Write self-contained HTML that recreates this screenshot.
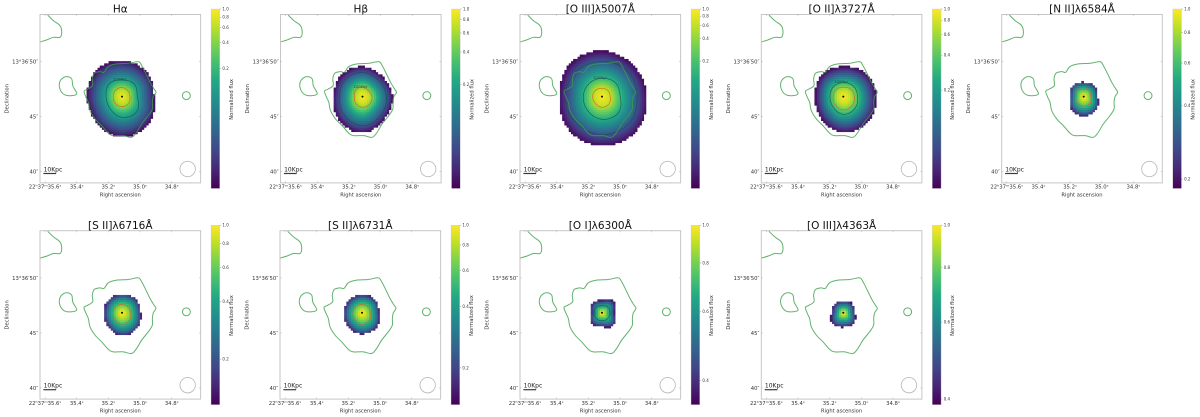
<!DOCTYPE html>
<html lang="en">
<head>
<meta charset="utf-8">
<title>Normalized emission-line flux maps</title>
<style>
html,body{margin:0;padding:0;background:#fff;}
body{width:1200px;height:417px;overflow:hidden;}
svg{display:block;filter:blur(0.3px);}
text{font-family:"DejaVu Sans","Liberation Sans",sans-serif;}
</style>
</head>
<body>
<svg id="figure" xmlns="http://www.w3.org/2000/svg" width="1200" height="417" viewBox="0 0 1200 417">
<defs>
<linearGradient id="viridis-gradient" x1="0" y1="1" x2="0" y2="0"></linearGradient>
</defs>
</svg>
<script>
// ---- panel data ----
const panelTitles = ['Hα','Hβ','[O III]λ5007Å','[O II]λ3727Å','[N II]λ6584Å','[S II]λ6716Å','[S II]λ6731Å','[O I]λ6300Å','[O III]λ4363Å'];
const panelSlugs = ['h-alpha','h-beta','o3-5007','o2-3727','n2-6584','s2-6716','s2-6731','o1-6300','o3-4363'];
// colour-bar log-norm lower limits
const normMin = [0.0077,0.0217,0.0039,0.0284,0.183,0.1157,0.132,0.347,0.388];
const colorbarTicks = [
  [1,0.8,0.6,0.4,0.2],[1,0.8,0.6,0.4,0.2],[1,0.8,0.6,0.4,0.2],[1,0.8,0.6,0.4,0.2],[1,0.8,0.6,0.4,0.2],
  [1,0.8,0.6,0.4,0.2],[1,0.8,0.6,0.4,0.2],[1,0.8,0.6,0.4],[1,0.8,0.6,0.4]
];
// flux-map outline: radius in arcsec, going counter-clockwise from screen right
const outlineRadii = [
  [2.91,3.09,3.18,3.27,3.32,3.27,3.18,3.18,3.45,3.64,3.55,3.27],
  [2.73,2.55,2.73,2.73,2.64,3,3.27,2.82],
  [4.05,4,4.15,4.14,3.88,4.25,4.45,4.41],
  [2.97,2.91,2.73,2.78,2.57,2.82,3.27,3.18],
  [1.27,1.36,1.3,1.42,1.25,1.57,1.75,1.64],
  [1.7,1.75,1.7,1.7,1.64,1.77,2.03,1.95],
  [1.55,1.66,1.64,1.64,1.66,1.75,1.91,1.85],
  [1.12,1.45,1.15,1.25,1,1.36,1.27,1.55],
  [1.06,1.15,1.09,1.13,1.06,1.38,1.3,1.36]
];
// colour-map fraction sampled along normalized radius 0, .2, .4, .6, .8, 1
const radialProfiles = [
  [1,0.88,0.66,0.45,0.25,0.03],
  [1,0.92,0.72,0.48,0.27,0.03],
  [1,0.9,0.68,0.46,0.24,0.03],
  [1,0.92,0.74,0.5,0.26,0.03],
  [1,0.92,0.78,0.6,0.4,0.1],
  [1,0.92,0.78,0.6,0.4,0.1],
  [1,0.92,0.78,0.6,0.4,0.1],
  [1,0.88,0.68,0.5,0.3,0.05],
  [1,0.88,0.68,0.5,0.3,0.05]
];
// inner (orange) contour radii in arcsec
const innerContours = [
  [0.73,0.75,0.82,0.82,0.79,0.86,0.91,0.86],
  [0.85,0.77,0.85,0.86,0.75,0.86,0.97,0.95],
  [0.75,0.77,0.75,0.82,0.85,0.86,0.97,0.91],
  [1,0.95,0.85,0.91,0.91,1.05,1.21,1.14],
  [0.64,0.73,0.85,0.82,0.73,0.82,0.85,0.82],
  [0.79,0.77,0.75,0.82,0.79,0.91,1.03,0.95],
  [0.75,0.77,0.75,0.82,0.82,0.91,1.06,0.95],
  [],
  []
];
// dark age contours, radii in arcsec
const darkContours = [
  [[1.39,1.59,1.52,1.64,1.45,1.54,1.88,1.91],[2.75,2.82,3,3,3,3,3.27,3]],
  [[2.18,2.09,2.18,2.18,2.09,2.36,2.64,2.36]],
  [[1.66,1.75,1.66,1.67,1.7,1.82,2.06,2.09],[3.18,3.27,3.18,3.27,3.34,3.36,3.45,3.45]],
  [[1.3,1.32,1.27,1.27,1.21,1.32,1.61,1.5]],
  [],
  [],
  [],
  [[0.73,0.73,0.64,0.73,0.73,0.73,0.73,0.73]],
  []
];
const contourLabelPanels = [0,1,2,3];
// shared outer contours, [arcsec east, arcsec north] of the nucleus
const mainContour = [[3.45,.48],[3.15,.67],[2.67,1],[2.7,1.61],[2.52,2.12],[2,2.27],[1.64,2.21],[1.24,2.73],[.48,2.97],[-.58,3.03],[-1.48,3.18],[-1.79,2.82],[-2.18,2.06],[-2.55,1.3],[-2.91,.7],[-3.09,.39],[-2.85,0],[-2.76,-.52],[-2.76,-1.12],[-2.39,-1.73],[-1.79,-2.48],[-1.33,-3.24],[-.88,-3.7],[-.12,-3.55],[.79,-3.55],[1.24,-3.33],[1.85,-2.64],[2.45,-2.03],[2.91,-1.27],[3.06,-.52],[3.27,-.06]];
const cornerContour = [[6.76,7.42],[6.24,6.91],[5.64,6.45],[5.48,5.85],[5.64,5.39],[6.24,5.39],[6.85,5.15],[7.45,4.97]];
const westBlobContour = [[5.7,1.15],[5.48,1.61],[5.03,1.82],[4.58,1.61],[4.48,1],[4.27,.61],[4.12,.24],[4.58,.09],[5.18,.15],[5.58,.55]];
const eastBlob = [-5.85,0.09,0.36];
const beam = [-5.97,-6.58,0.7];
// axis ticks
const raTicks = [35.6,35.4,35.2,35.0,34.8];
const raTickLabels = ['22ʰ37ᵐ35.6ˢ','35.4ˢ','35.2ˢ','35.0ˢ','34.8ˢ'];
const decTicks = [50,45,40];
const decTickLabels = ['13°36′50″','45″','40″'];
const viridisStops = ['#440154','#482475','#414487','#355f8d','#2a788e','#21918c','#22a884','#44bf70','#7ad151','#bddf26','#fde725'];
const scaleBarArcsec = 1.16;

// ---- layout ----
const axesLefts = [40,280.5,520,761.3,1001.7,40,280,520,761.3];
const axesTops = [14.5,14.5,14.5,14.5,14.5,230.7,230.7,230.7,230.7];
const axesWidth = 160.6, axesHeight = 168.4, pxPerArcsec = 11, cbGap = 10.4, cbWidth = 8.8, cbHeight = 179.5;
const nucleusRa = 35.114, nucleusDec = 46.83, pxPerSecond = 158.3;
const ns = 'http://www.w3.org/2000/svg';
const svg = document.getElementById('figure');

function el(parent, tag, attrs, text){
  const e = document.createElementNS(ns, tag);
  for (const k in attrs) e.setAttribute(k, attrs[k]);
  if (text !== undefined) e.textContent = text;
  parent.appendChild(e);
  return e;
}
function hexRgb(h){ return [1,3,5].map(i => parseInt(h.slice(i,i+2),16)); }
function viridis(f){
  f = Math.max(0, Math.min(1, f));
  const u = f * (viridisStops.length - 1), i = Math.min(Math.floor(u), viridisStops.length - 2), w = u - i;
  const a = hexRgb(viridisStops[i]), b = hexRgb(viridisStops[i+1]);
  return 'rgb(' + a.map((v,k) => Math.round(v + (b[k]-v)*w)).join(',') + ')';
}
function radiusAt(radii, theta){
  const n = radii.length;
  const u = (((theta / (2*Math.PI)) % 1 + 1) % 1) * n;
  const i = Math.floor(u), t = u - i;
  const p0 = radii[(i-1+n)%n], p1 = radii[i%n], p2 = radii[(i+1)%n], p3 = radii[(i+2)%n];
  return 0.5*((2*p1)+(-p0+p2)*t+(2*p0-5*p1+4*p2-p3)*t*t+(-p0+3*p1-3*p2+p3)*t*t*t);
}
function profileAt(profile, t){
  const u = Math.min(t,1) * (profile.length - 1), i = Math.min(Math.floor(u), profile.length - 2);
  return profile[i] + (profile[i+1]-profile[i])*(u-i);
}
function smoothPath(pts, closed){
  const n = pts.length;
  let d = 'M' + pts[0][0].toFixed(2) + ' ' + pts[0][1].toFixed(2);
  const last = closed ? n : n-1;
  for (let i = 0; i < last; i++){
    const p0 = pts[closed ? (i-1+n)%n : Math.max(i-1,0)], p1 = pts[i], p2 = pts[(i+1)%n], p3 = pts[closed ? (i+2)%n : Math.min(i+2,n-1)];
    d += 'C' + (p1[0]+(p2[0]-p0[0])/6).toFixed(2) + ' ' + (p1[1]+(p2[1]-p0[1])/6).toFixed(2) + ' ' +
         (p2[0]-(p3[0]-p1[0])/6).toFixed(2) + ' ' + (p2[1]-(p3[1]-p1[1])/6).toFixed(2) + ' ' +
         p2[0].toFixed(2) + ' ' + p2[1].toFixed(2);
  }
  return d + (closed ? 'Z' : '');
}

viridisStops.forEach((c,i) => {
  el(document.getElementById('viridis-gradient'), 'stop', {offset: (i/(viridisStops.length-1)), 'stop-color': c});
});

panelTitles.forEach((title, p) => {
  const left = axesLefts[p], top = axesTops[p], bottom = top + axesHeight, right = left + axesWidth;
  const cx = left + 82, cy = top + 82.1;
  const sx = east => cx - east * pxPerArcsec;
  const sy = north => cy - north * pxPerArcsec;
  const raX = ra => cx + (nucleusRa - ra) * pxPerSecond;
  const decY = dec => cy - (dec - nucleusDec) * pxPerArcsec;

  const g = el(svg, 'g', {});
  
  

  // heatmap cells (slightly oversized so neighbouring cells leave no seams)
  const heat = el(g, 'g', {});
  
  
  const cell = 0.2, size = cell * pxPerArcsec, pad = 0.5;
  for (let e = -5.1; e < 5.2; e += cell){
    for (let n = -5.1; n < 5.2; n += cell){
      const r = Math.hypot(e, n), theta = Math.atan2(n, -e);
      const R = radiusAt(outlineRadii[p], theta);
      if (r > R) continue;
      const cellRect = el(heat, 'rect', {x: (sx(e)-size/2-pad/2).toFixed(2), y: (sy(n)-size/2-pad/2).toFixed(2), width: (size+pad).toFixed(2), height: (size+pad).toFixed(2), fill: viridis(profileAt(radialProfiles[p], r/R))});
      
      
    }
  }

  // radial contours
  const radialPath = radii => {
    const pts = [];
    for (let a = 0; a < 72; a++){
      const th = a/72*2*Math.PI, r = radiusAt(radii, th);
      pts.push([cx + r*pxPerArcsec*Math.cos(th), cy - r*pxPerArcsec*Math.sin(th)]);
    }
    return smoothPath(pts, true);
  };
  darkContours[p].forEach(radii => {
    const dark = el(g, 'path', {d: radialPath(radii), fill: 'none', stroke: '#17504f', 'stroke-width': 0.7, 'stroke-opacity': 0.8});
    
    
  });
  if (innerContours[p].length){
    const inner = el(g, 'path', {d: radialPath(innerContours[p]), fill: 'none', stroke: '#d0642c', 'stroke-width': 0.8, 'stroke-opacity': 0.8});
    
    
  }
  if (contourLabelPanels.includes(p)){
    const labelRadii = p === 1 ? innerContours[p] : darkContours[p][0];
    const label = el(g, 'text', {x: (cx-2).toFixed(2), y: (cy - radiusAt(labelRadii, Math.PI/2)*pxPerArcsec + 0.6).toFixed(2), 'text-anchor': 'middle', 'font-size': 3.7, fill: '#1c4a4a'}, '100Myr');
    
    
  }

  // shared green contours
  const toPts = arr => arr.map(q => [sx(q[0]), sy(q[1])]);
  const greenStyle = {fill: 'none', stroke: '#3a9f48', 'stroke-width': 1, 'stroke-opacity': 0.8};
  const mainC = el(g, 'path', Object.assign({d: smoothPath(toPts(mainContour), true)}, greenStyle));
  
  
  const cornerC = el(g, 'path', Object.assign({d: smoothPath(toPts(cornerContour), false)}, greenStyle));
  
  
  const westC = el(g, 'path', Object.assign({d: smoothPath(toPts(westBlobContour), true)}, greenStyle));
  
  
  const eastC = el(g, 'circle', Object.assign({cx: sx(eastBlob[0]), cy: sy(eastBlob[1]), r: eastBlob[2]*pxPerArcsec}, greenStyle));
  
  

  // nucleus marker
  const nucleus = el(g, 'circle', {cx: cx, cy: cy, r: 1, fill: '#000'});
  
  

  // beam
  const beamC = el(g, 'circle', {cx: sx(beam[0]), cy: sy(beam[1]), r: beam[2]*pxPerArcsec, fill: 'none', stroke: '#bdbdbd', 'stroke-width': 0.9});
  
  

  // scale bar
  const barY = top + 159;
  const bar = el(g, 'rect', {x: left + 3.4, y: barY - 0.6, width: scaleBarArcsec*pxPerArcsec, height: 1.2, fill: '#3a3a3a'});
  
  
  const barText = el(g, 'text', {x: left + 3.6, y: barY - 2, 'font-size': 6, fill: '#222'}, '10Kpc');
  
  

  // spines
  const frame = el(g, 'rect', {x: left, y: top, width: axesWidth, height: axesHeight, fill: 'none', stroke: '#c6c6c6', 'stroke-width': 1});
  
  

  // ticks
  raTicks.forEach((ra, i) => {
    const x = raX(ra);
    const tickB = el(g, 'line', {x1: x, x2: x, y1: bottom, y2: bottom - 1.6, stroke: '#999', 'stroke-width': 0.4});
    
    
    const tickT = el(g, 'line', {x1: x, x2: x, y1: top, y2: top + 1.6, stroke: '#999', 'stroke-width': 0.4});
    
    
    const lab = el(g, 'text', {x: x, y: bottom + 5.7, 'text-anchor': 'middle', 'font-size': 5.3, fill: '#333'}, raTickLabels[i]);
    
    
  });
  decTicks.forEach((dec, i) => {
    const y = decY(dec);
    const tickL = el(g, 'line', {x1: left, x2: left + 1.6, y1: y, y2: y, stroke: '#999', 'stroke-width': 0.4});
    
    
    const tickR = el(g, 'line', {x1: right, x2: right - 1.6, y1: y, y2: y, stroke: '#999', 'stroke-width': 0.4});
    
    
    const lab = el(g, 'text', {x: left - 1.8, y: y + 1.9, 'text-anchor': 'end', 'font-size': 5.3, fill: '#333'}, decTickLabels[i]);
    
    
  });

  // titles
  const ttl = el(g, 'text', {x: left + axesWidth/2, y: top - 1.9, 'text-anchor': 'middle', 'font-size': 10.5, fill: '#111'}, title);
  
  
  const xTitle = el(g, 'text', {x: left + axesWidth/2, y: bottom + 13.6, 'text-anchor': 'middle', 'font-size': 5.2, fill: '#333'}, 'Right ascension');
  
  
  const yMid = top + axesHeight/2, yTx = left - 31.5;
  const yTitle = el(g, 'text', {x: yTx, y: yMid, 'text-anchor': 'middle', 'font-size': 5.2, fill: '#333', transform: 'rotate(-90 ' + yTx + ' ' + yMid + ')'}, 'Declination');
  
  

  // colour bar
  const cbX = right + cbGap, cbY = top - 5.5;
  const cb = el(g, 'rect', {x: cbX, y: cbY, width: cbWidth, height: cbHeight, fill: 'url(#viridis-gradient)', stroke: '#cfcfcf', 'stroke-width': 0.4});
  
  
  const cbScale = v => cbY + cbHeight * (1 - Math.log(v/normMin[p]) / Math.log(1/normMin[p]));
  colorbarTicks[p].forEach(v => {
    const y = cbScale(v);
    const t = el(g, 'line', {x1: cbX + cbWidth, x2: cbX + cbWidth + 1.4, y1: y, y2: y, stroke: '#777', 'stroke-width': 0.4});
    
    
    const l = el(g, 'text', {x: cbX + cbWidth + 2.6, y: y + 1.4, 'font-size': 4, fill: '#333'}, v.toFixed(1));
    
    
  });
  const cbLx = cbX + cbWidth + 13, cbLy = cbY + cbHeight/2 + 0.6;
  const cbLabel = el(g, 'text', {x: cbLx, y: cbLy, 'text-anchor': 'middle', 'font-size': 5.2, fill: '#333', transform: 'rotate(-90 ' + cbLx + ' ' + cbLy + ')'}, 'Normalized flux');
  
  
});
</script>
</body>
</html>
